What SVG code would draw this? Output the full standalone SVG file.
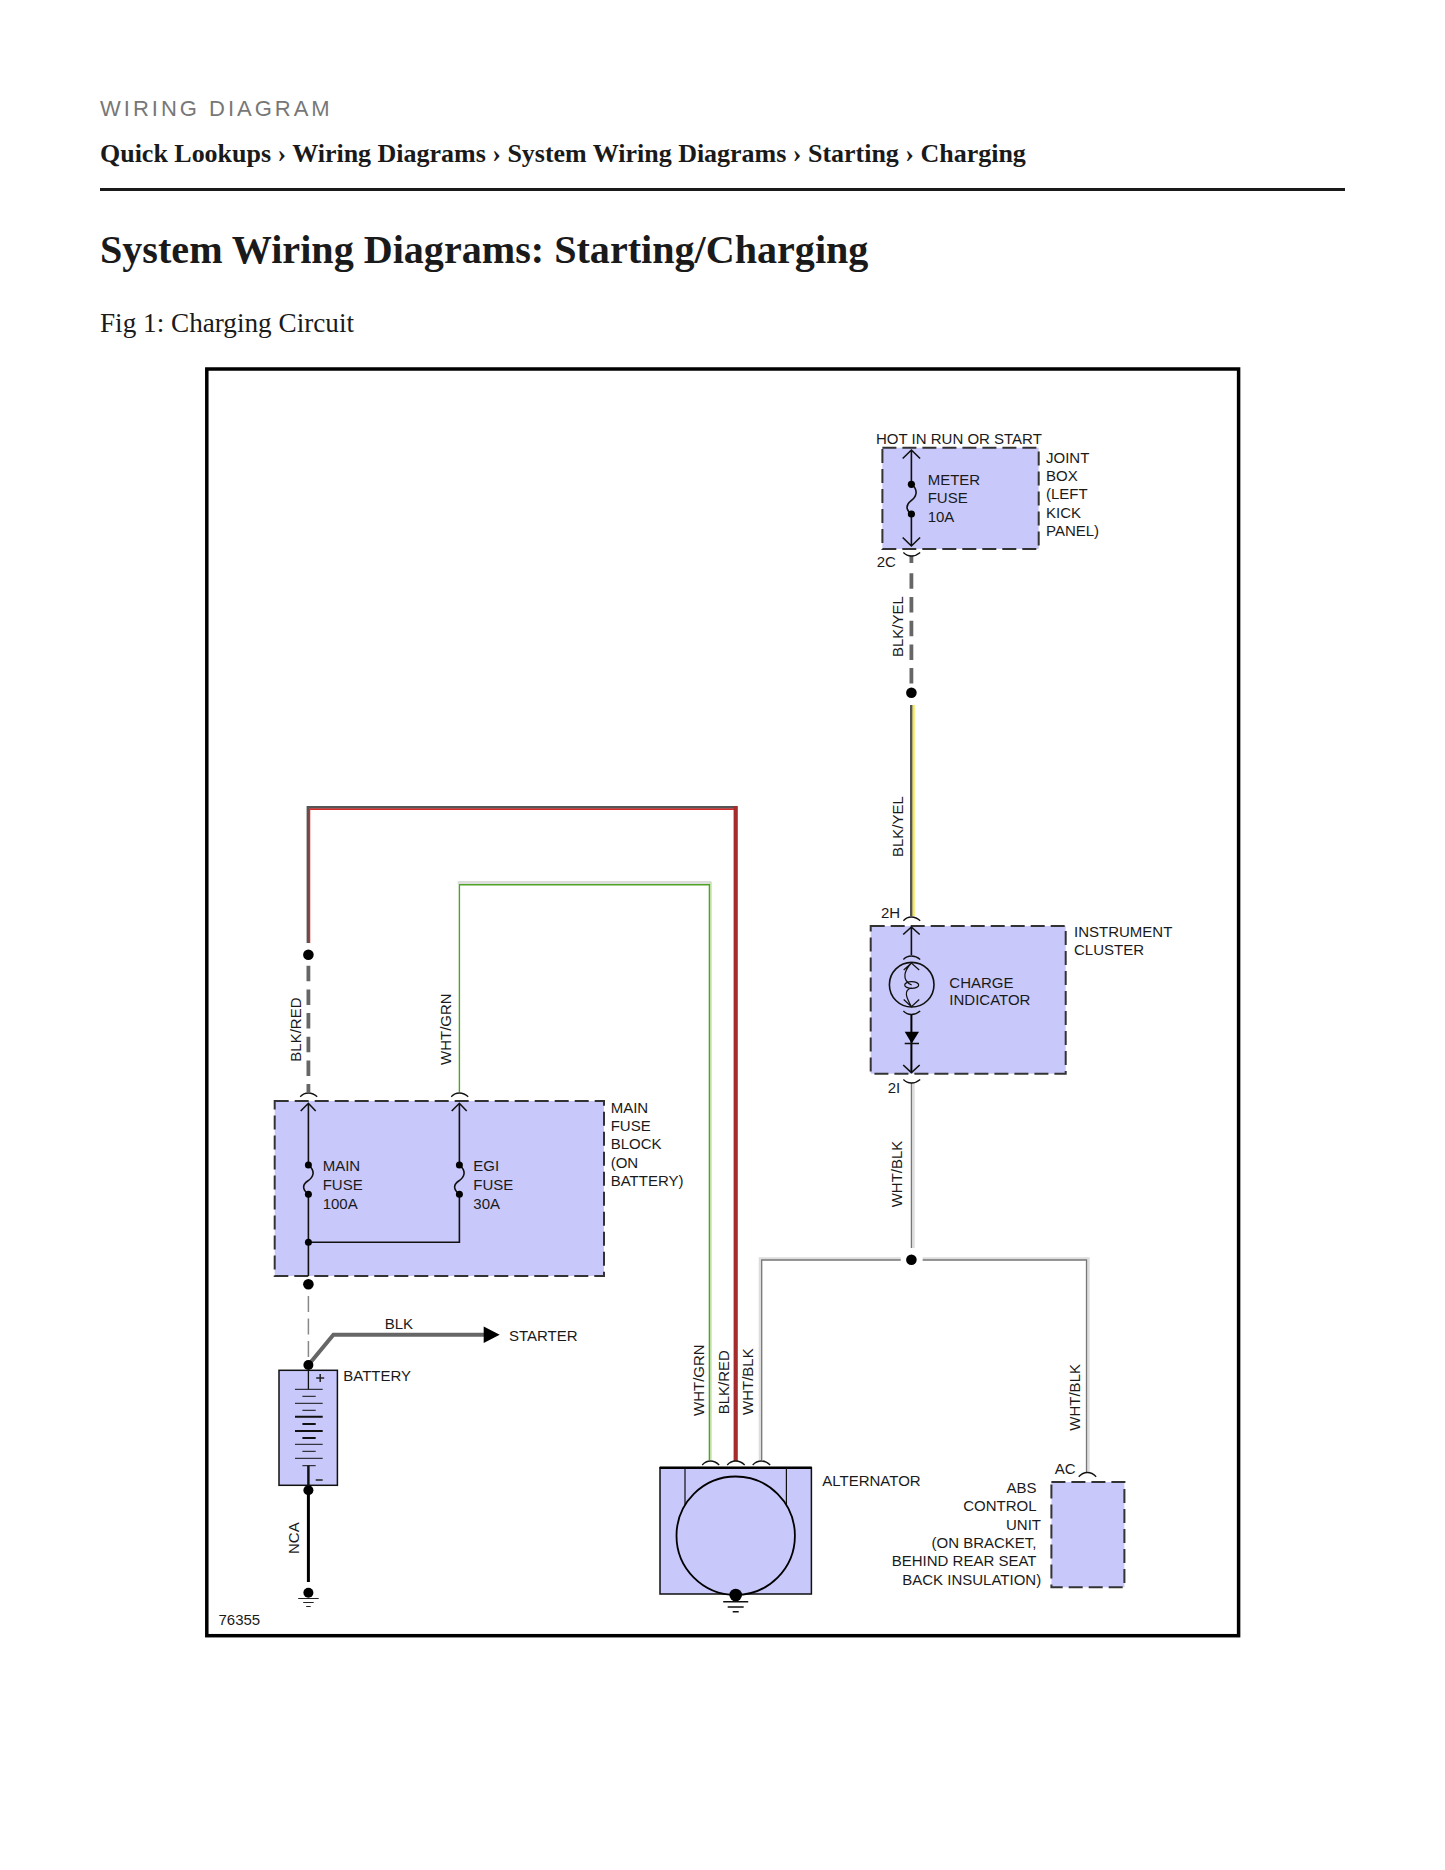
<svg xmlns="http://www.w3.org/2000/svg" width="1445" height="1870" viewBox="0 0 1445 1870">
<defs>
<style>
text{font-family:"Liberation Sans",Arial,sans-serif;font-size:15px;fill:#1a1a1a}
.s{font-family:"Liberation Serif","Times New Roman",serif;fill:#1a1a1a}
.box{fill:#c8c8fa;stroke:#333;stroke-width:2;stroke-dasharray:14 6}
.solid{fill:#c8c8fa;stroke:#111;stroke-width:1.5}
.ln{fill:none;stroke:#111;stroke-width:1.6}
.arc{fill:none;stroke:#111;stroke-width:1.3}
.w1{fill:none;stroke:#777;stroke-width:1.3}
.w2{fill:none;stroke:#ddd;stroke-width:3}
.dash{fill:none;stroke:#666;stroke-width:3.800;stroke-dasharray:15.500 8.200}
</style>
</defs>
<rect width="1445" height="1870" fill="#fff"/>
<g id="header">
<text x="100" y="116" style="font-size:22px;letter-spacing:3px;fill:#777">WIRING DIAGRAM</text>
<text class="s" x="100" y="162" style="font-size:25.980px;font-weight:bold">Quick Lookups › Wiring Diagrams › System Wiring Diagrams › Starting › Charging</text>
<rect x="100" y="188" width="1245" height="3" fill="#1a1a1a"/>
<text class="s" x="100" y="263" style="font-size:40.120px;font-weight:bold">System Wiring Diagrams: Starting/Charging</text>
<text class="s" x="100" y="332" style="font-size:27.200px">Fig 1: Charging Circuit</text>
</g>
<rect id="frame" x="206.800" y="369" width="1031.800" height="1266.700" fill="#fff" stroke="#000" stroke-width="3.500"/>
<g id="connectors">
<g transform="translate(.7 0)">
<path d="M910.700 556V563" class="dash"/>
<path d="M910.700 573.300V685" class="dash"/>
<path d="M912.800 705V916" fill="none" stroke="#f5e84a" stroke-width="2.400"/>
<path d="M910.500 705V916" fill="none" stroke="#555" stroke-width="2.400"/>
<path d="M912.500 1083V1248" class="w2"/><path d="M910.700 1083V1248" class="w1"/>
<path d="M900 1258.700H759.500V1460" class="w2"/><path d="M900 1260H761V1460" class="w1"/>
<path d="M922 1258.700H1087.500V1472" class="w2"/><path d="M922 1260H1085.800V1472" class="w1"/>
<path d="M307.300 943V807.300H735.500" fill="none" stroke="#555" stroke-width="2.800"/>
<path d="M308.800 943V809.200H734" fill="none" stroke="#d82828" stroke-width="1.500"/>
<path d="M735 806V1461" fill="none" stroke="#a52c2c" stroke-width="4.200"/>
<path d="M307.700 965.700V1078" class="dash"/>
<path d="M307.700 1084V1092" class="dash"/>
<path d="M457 882.600H710.600" fill="none" stroke="#ddd" stroke-width="3"/>
<path d="M709.800 882V1460" fill="none" stroke="#c8e8b0" stroke-width="2.600"/>
<path d="M458.700 1092V884.800H708.700V1460" fill="none" stroke="#4fa428" stroke-width="1.400"/>
<path d="M307.700 1296V1360" fill="none" stroke="#888" stroke-width="1.500" stroke-dasharray="16 6.500"/>
<path d="M307.700 1365L332.700 1334.700H484" fill="none" stroke="#666" stroke-width="4"/>
<path d="M483 1326.400L499 1334.700L483 1343z" fill="#000"/>
<path d="M307.700 1490V1582" fill="none" stroke="#000" stroke-width="3"/>
<circle cx="910.700" cy="692.700" r="5.300"/>
<circle cx="910.700" cy="1259.700" r="5.300"/>
<circle cx="307.700" cy="954.700" r="5.300"/>
<circle cx="307.700" cy="1284.300" r="5.300"/>
</g>
<text transform="translate(902.700 657) rotate(-90)">BLK/YEL</text>
<text transform="translate(902.700 857) rotate(-90)">BLK/YEL</text>
<text transform="translate(901.700 1207.300) rotate(-90)">WHT/BLK</text>
<text transform="translate(301 1061.700) rotate(-90)">BLK/RED</text>
<text transform="translate(450.700 1065) rotate(-90)">WHT/GRN</text>
<text transform="translate(704 1416) rotate(-90)">WHT/GRN</text>
<text transform="translate(729 1414.300) rotate(-90)">BLK/RED</text>
<text transform="translate(753.300 1415) rotate(-90)">WHT/BLK</text>
<text transform="translate(1080 1430.700) rotate(-90)">WHT/BLK</text>
<text transform="translate(299 1554) rotate(-90)">NCA</text>
<text x="384.700" y="1329">BLK</text>
<text x="509" y="1341">STARTER</text>
</g>
<g id="joint-box">
<g transform="translate(.7 0)">
<rect class="box" x="881.700" y="447.700" width="156.300" height="101.300"/>
<path class="ln" d="M910.700 450V484M910.700 514V546M902 458.500L910.700 450L919.400 458.500M902 537.500L910.700 546L919.400 537.500"/>
<path class="ln" d="M910.700 484C918 490 916 497 910 501C905 505 905 510 910.700 514"/>
<circle cx="910.700" cy="484.300" r="3.600"/><circle cx="910.700" cy="514" r="3.600"/>
<path class="arc" d="M902.700 552.500Q906 556 910.700 556Q915.500 556 919.500 552.500"/>
</g>
<text x="876" y="444">HOT IN RUN OR START</text>
<text x="927.700" y="484.700">METER</text><text x="927.700" y="502.700">FUSE</text><text x="927.700" y="522">10A</text>
<text x="1046" y="463.300">JOINT</text><text x="1046" y="480.500">BOX</text><text x="1046" y="498.500">(LEFT</text><text x="1046" y="518">KICK</text><text x="1046" y="535.500">PANEL)</text>
<text x="876.700" y="567">2C</text>
</g>
<g id="instrument-cluster">
<g transform="translate(.7 0)">
<rect class="box" x="870" y="926" width="195" height="147.700"/>
<path class="arc" d="M902.700 920.700Q906 917 910.700 917Q915.500 917 919.500 920.700"/>
<path class="ln" d="M910.700 927V955M902.500 934.500L910.700 927L919 934.500"/>
<path class="arc" d="M902.700 959.500Q906 956 910.700 956Q915.500 956 919.500 959.500"/>
<circle cx="911" cy="984.700" r="22.300" class="ln"/>
<path class="ln" d="M903 970L910.700 963L918.500 970M903 999.500L910.700 1006.700L918.500 999.500M910.700 963C904 970 900 980 911 985M911 988C902 990 906 998 910.700 1006.700" style="stroke-width:1.200"/>
<ellipse cx="911" cy="985" rx="7" ry="3.400" class="ln" style="stroke-width:1.200"/>
<path class="arc" d="M902.700 1011Q906 1014.500 910.700 1014.500Q915.500 1014.500 919.500 1011"/>
<path d="M910.700 1015V1072.500" fill="none" stroke="#000" stroke-width="2"/>
<path d="M904 1031.700H918.300L911 1043.500z" fill="#000"/>
<path class="ln" d="M904 1043.500H918.300M902.500 1065L910.700 1072.700L919 1065"/>
<path class="arc" d="M902.700 1079.500Q906 1083 910.700 1083Q915.500 1083 919.500 1079.500"/>
</g>
<text x="881" y="918.300">2H</text><text x="887.700" y="1092.700">2I</text>
<text x="1074" y="937">INSTRUMENT</text><text x="1074" y="955">CLUSTER</text>
<text x="949.300" y="988.300">CHARGE</text><text x="949.300" y="1005">INDICATOR</text>
</g>
<g id="main-fuse-block">
<g transform="translate(.7 0)">
<rect class="box" x="274" y="1101" width="329.300" height="175"/>
<path class="arc" d="M299.500 1096.700Q303 1093 307.700 1093Q312.500 1093 316.500 1096.700"/>
<path class="arc" d="M450.500 1096.700Q454 1093 458.700 1093Q463.500 1093 467.500 1096.700"/>
<path class="ln" d="M307.700 1103.300V1165M300 1111L307.700 1103.300L315 1111M458.700 1103.300V1165M451 1111L458.700 1103.300L466 1111"/>
<path class="ln" d="M307.700 1165C315 1171 313 1177 307 1181C301 1185 302 1190 307.700 1194.300V1276M458.700 1165C466 1171 464 1177 458 1181C452 1185 453 1190 458.700 1194.300V1242.300H307.700"/>
<circle cx="307.700" cy="1165" r="3.500"/><circle cx="307.700" cy="1194.300" r="3.500"/><circle cx="307.700" cy="1242.300" r="3.500"/>
<circle cx="458.700" cy="1165" r="3.500"/><circle cx="458.700" cy="1194.300" r="3.500"/>
</g>
<text x="322.700" y="1171">MAIN</text><text x="322.700" y="1190">FUSE</text><text x="322.700" y="1209">100A</text>
<text x="473.300" y="1171">EGI</text><text x="473.300" y="1190">FUSE</text><text x="473.300" y="1209">30A</text>
<text x="610.700" y="1113.300">MAIN</text><text x="610.700" y="1131">FUSE</text><text x="610.700" y="1149">BLOCK</text><text x="610.700" y="1168">(ON</text><text x="610.700" y="1186">BATTERY)</text>
</g>
<g id="battery">
<g transform="translate(.7 0)">
<rect class="solid" x="278.300" y="1370.300" width="58.400" height="115"/>
<circle cx="307.700" cy="1365" r="5"/><circle cx="307.700" cy="1490.300" r="5"/>
<path class="ln" d="M307.700 1370V1389.300" style="stroke-width:1.300"/>
<path d="M294.300 1389.300H322M301.700 1396.300H315M294.300 1403.300H322M301.700 1410.300H315M294.300 1444.300H322M301.700 1451.300H315M294.300 1458.300H322M301.700 1465.700H315" fill="none" stroke="#111" stroke-width="1"/>
<path d="M294.300 1416.700H322M301.700 1424H315M294.300 1431H322M301.700 1438H315" fill="none" stroke="#111" stroke-width="2"/>
<path d="M307.700 1465.700V1486" fill="none" stroke="#111" stroke-width="2.500"/>
<path d="M315.500 1378H323.500M319.500 1374V1382M315 1480H322" fill="none" stroke="#222" stroke-width="1.500"/>
</g>
<text x="343.300" y="1381">BATTERY</text>
</g>
<g id="ground-1">
<g transform="translate(.7 0)">
<circle cx="307.700" cy="1592.700" r="5"/>
<path d="M297.500 1598.500H318M302.500 1602.500H313M305.500 1606.500H310" fill="none" stroke="#222" stroke-width="1"/>
</g>
</g>
<g id="alternator">
<g transform="translate(.7 0)">
<rect class="solid" x="659.300" y="1467.700" width="151.400" height="126.300"/>
<path d="M659 1467.700H811" stroke="#000" stroke-width="2.500" fill="none"/>
<path class="ln" d="M684.300 1468V1505M785.700 1468V1505" style="stroke-width:1.200"/>
<circle cx="735" cy="1535.700" r="59.200" class="solid" style="stroke-width:1.800;stroke:#000"/>
<circle cx="735" cy="1595" r="6.300"/>
<path d="M722.500 1601.700H747.500M727 1607H743M732 1611.700H738" fill="none" stroke="#111" stroke-width="1.600"/>
<path class="arc" d="M701.500 1465Q705 1461 709.700 1461Q714.500 1461 718.500 1465"/>
<path class="arc" d="M726.500 1465Q730 1461 735 1461Q740 1461 744 1465"/>
<path class="arc" d="M752 1465Q755.500 1461 760.700 1461Q765.500 1461 769.500 1465"/>
</g>
<text x="822.300" y="1486">ALTERNATOR</text>
</g>
<g id="abs-control-unit">
<g transform="translate(.7 0)">
<rect class="box" x="1050.700" y="1482" width="73" height="105.300"/>
<path class="arc" d="M1078 1476.700Q1082 1472.500 1086.700 1472.500Q1091.500 1472.500 1095.500 1476.700"/>
</g>
<text x="1054.700" y="1474">AC</text>
<g text-anchor="end">
<text x="1036.500" y="1493">ABS</text><text x="1036.500" y="1510.700">CONTROL</text><text x="1041" y="1530">UNIT</text><text x="1036.500" y="1548.300">(ON BRACKET,</text><text x="1036.500" y="1566">BEHIND REAR SEAT</text><text x="1041.200" y="1585">BACK INSULATION)</text>
</g>
</g>
<text x="218.500" y="1625" style="font-size:15px">76355</text>
</svg>
